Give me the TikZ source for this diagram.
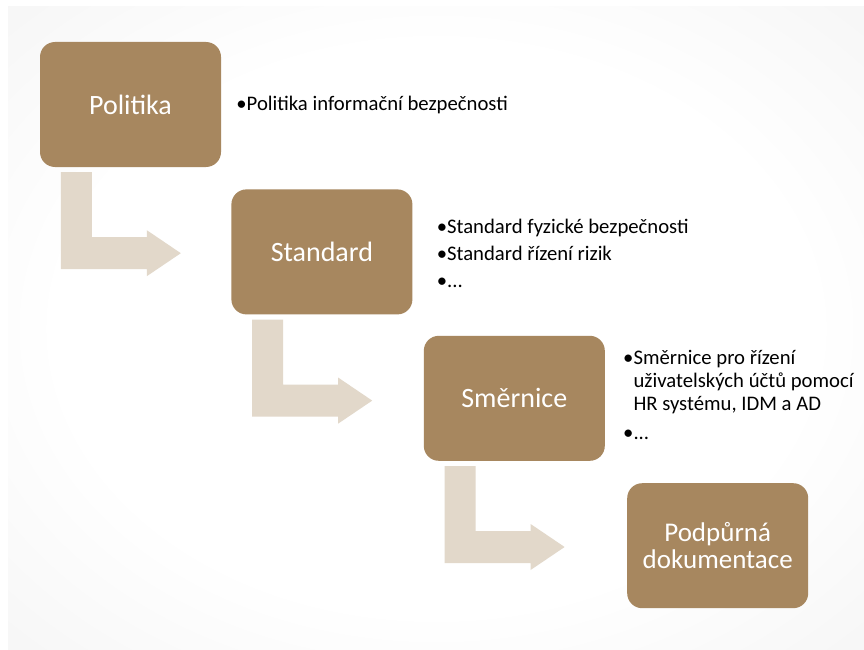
\documentclass[tikz,border=0pt]{standalone}
\usepackage{fontspec}
\setmainfont{Carlito}
\usetikzlibrary{positioning,calc}
\definecolor{boxbrown}{HTML}{A7875F}
\definecolor{arrbeige}{HTML}{E2D8CA}
\pgfdeclareradialshading{slidebg}{\pgfpoint{0bp}{0bp}}{color(0bp)=(white); color(22bp)=(white);
  color(50bp)=(black!7); color(71bp)=(black!11); color(100bp)=(black!11)}

\begin{document}
\begin{tikzpicture}[x=1pt,y=-1pt,
  box/.style={fill=boxbrown,rounded corners=15pt,minimum width=181pt,minimum height=125pt,
    inner sep=0pt,text=white,align=center,font=\fontsize{28}{29}\selectfont},
  note/.style={align=left,inner sep=0pt,font=\fontsize{20.7}{23}\selectfont},
  arr/.style={fill=arrbeige}]
\fill[white] (0,0) rectangle (864,650);
\shade[shading=slidebg] (8,7) rectangle (864,650);
\useasboundingbox (0,0) rectangle (864,650);

% the four levels
\node [box] (pol) at (130.5,104.5) {Politika};
\node [box,below right=22pt and 10pt of pol] (std) {Standard};
\node [box,below right=21pt and 11pt of std] (sme) {Směrnice};
\node [box,below right=22pt and 22pt of sme,font=\fontsize{27}{27.5}\selectfont] (pod) {Podpůrná\\dokumentace};

% bent arrows between levels
\foreach \a in {pol,std,sme}
  \fill[arr] ([shift={(21,5)}]\a.south west) -- ++(31,0) -- ++(0,65) -- ++(55,0) -- ++(0,-7)
    -- ++(34,23) -- ++(-34,23) -- ++(0,-7) -- ++(-86,0) -- cycle;

% bullet texts
\node [note,right=15pt of pol] (polnote) {\textbullet Politika informační bezpečnosti};
\node [note,right=24pt of std,yshift=-1.5pt] (stdnote) {\textbullet Standard fyzické bezpečnosti\\[4pt]
  \textbullet Standard řízení rizik\\[4pt]\textbullet ...};
\node [note,right=18pt of sme,yshift=3pt] (smenote) {\textbullet Směrnice pro řízení\\
  \hphantom{\textbullet}uživatelských účtů pomocí\\\hphantom{\textbullet}HR systému, IDM a AD\\[6pt]
  \textbullet ...};
\end{tikzpicture}
\end{document}
